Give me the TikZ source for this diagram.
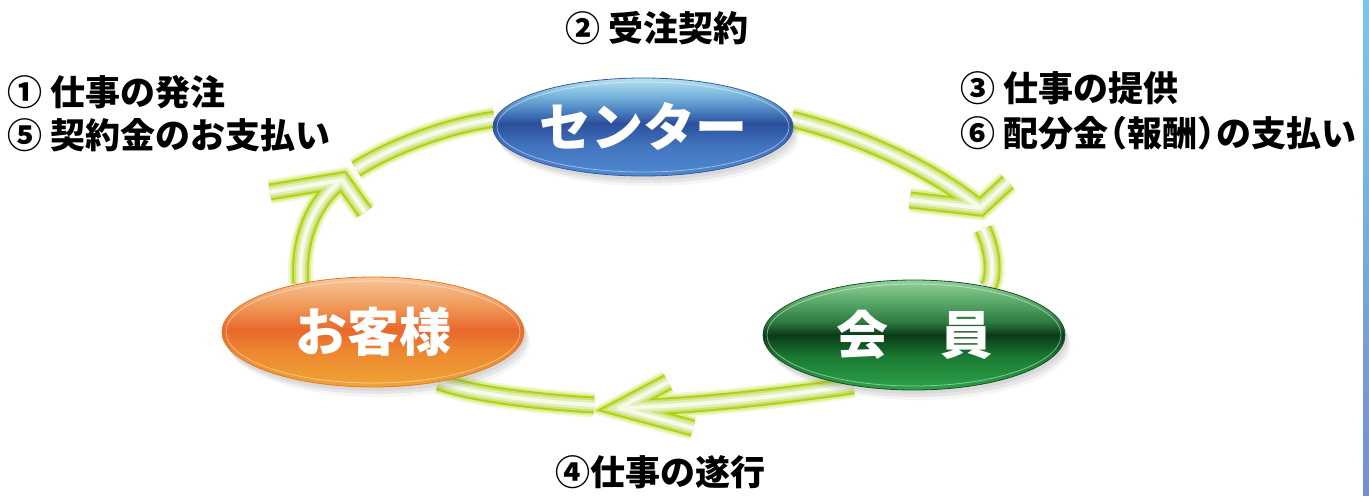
\documentclass[tikz,border=0pt]{standalone}
\usepackage{fontspec}
\newfontfamily\jp{Noto Sans CJK JP}
\usetikzlibrary{shapes.geometric,shadows}
\definecolor{gA}{HTML}{F1F8D4}
\definecolor{gA2}{HTML}{DCEE98}
\definecolor{gB}{HTML}{B2D10C}
\definecolor{gC}{HTML}{CBE277}
\definecolor{gD}{HTML}{E2EEB6}
\definecolor{gE}{HTML}{F6FAE8}
\definecolor{stripT}{HTML}{7CC6E8}
\definecolor{stripB}{HTML}{7490CC}
\definecolor{blueB}{HTML}{3A5AA0}
\definecolor{greenB}{HTML}{1A5028}
\definecolor{orangeB}{HTML}{E07A28}
\pgfdeclareverticalshading{blueell}{100bp}{rgb(0bp)=(.31,.54,.82); rgb(25bp)=(.31,.54,.82); rgb(40bp)=(.26,.46,.75); rgb(52bp)=(.17,.31,.61); rgb(58bp)=(.29,.50,.75); rgb(66bp)=(.47,.71,.86); rgb(75bp)=(.71,.89,.94); rgb(100bp)=(.71,.89,.94)}
\pgfdeclareverticalshading{greenell}{100bp}{rgb(0bp)=(.17,.64,.29); rgb(25bp)=(.17,.64,.29); rgb(40bp)=(.11,.48,.20); rgb(50bp)=(.04,.23,.09); rgb(56bp)=(.18,.48,.25); rgb(65bp)=(.35,.66,.41); rgb(75bp)=(.57,.82,.60); rgb(100bp)=(.57,.82,.60)}
\pgfdeclareverticalshading{orangeell}{100bp}{rgb(0bp)=(.94,.64,.20); rgb(25bp)=(.94,.64,.20); rgb(40bp)=(.93,.54,.19); rgb(51bp)=(.91,.41,.17); rgb(62bp)=(.94,.60,.35); rgb(75bp)=(.97,.78,.60); rgb(100bp)=(.97,.78,.60)}
\pgfdeclarelayer{bg}
\pgfsetlayers{bg,main}
\tikzset{
  glow/.style={draw=gE, line width=4pt, line cap=round, line join=round,
    preaction={draw=gA, line width=25pt},
    preaction={draw=gA2, line width=21pt},
    preaction={draw=gB, line width=17pt},
    preaction={draw=gC, line width=13pt},
    preaction={draw=gD, line width=9pt}},
  hub/.style={ellipse, inner sep=0pt, text=white, line width=0.8pt,
    font=\jp\bfseries\fontsize{52}{60}\selectfont,
    drop shadow={shadow xshift=2pt, shadow yshift=-4pt, opacity=.12},
    drop shadow={shadow xshift=4pt, shadow yshift=-7pt, opacity=.12},
    drop shadow={shadow xshift=6pt, shadow yshift=-10pt, opacity=.08}},
  lbl/.style={anchor=base west, inner sep=0pt, text=black,
    font=\jp\bfseries\fontsize{35}{40}\selectfont},
  shine/.style={draw=white, opacity=.45, line width=0.8pt}
}
\begin{document}
\begin{tikzpicture}[x=1pt,y=-1pt]
\useasboundingbox (0,0) rectangle (1369,496);

% hubs
\node[hub, shading=blueell, draw=blueB, minimum width=300pt, minimum height=98pt] (center) at (643,127) {\raisebox{5pt}{センター}};
\node[hub, shading=orangeell, draw=orangeB, minimum width=302pt, minimum height=110pt] (cust) at (373,332) {お客様};
\node[hub, shading=greenell, draw=greenB, minimum width=302pt, minimum height=110pt] (mem) at (914,335) {会　員};
\draw[shine] (center.center) ellipse [x radius=146, y radius=45];
\draw[shine] (cust.center) ellipse [x radius=147, y radius=51];
\draw[shine] (mem.center) ellipse [x radius=147, y radius=51];

% points of the loop
\coordinate (tipA) at (342,180);
\coordinate (armA1) at (270,192);
\coordinate (armA2) at (365,212);
\coordinate (startB) at (356,169);
\coordinate (tipC) at (980,208);
\coordinate (armC1) at (910,200);
\coordinate (armC2) at (1008,182);
\coordinate (startD) at (983,229);
\coordinate (tipE) at (619,408);
\coordinate (armE1) at (668,382);
\coordinate (armE2) at (693,428);
\coordinate (startF) at (594,405);

\begin{pgfonlayer}{bg}
\fill[white] (0,0) rectangle (1369,496);
\shade[top color=stripT, bottom color=stripB] (1363,0) rectangle (1369,495);
\path[glow] (cust.146) .. controls (298,240) and (312,203) .. (tipA)
  (armA1) -- (tipA) -- (armA2);
\path[glow] (startB) .. controls (395,145) and (450,125) .. (center.177);
\path[glow] (center.3) .. controls (870,138) and (940,175) .. (tipC)
  (armC1) -- (tipC) -- (armC2);
\path[glow] (startD) .. controls (993,250) and (995,275) .. (mem.33);
\path[glow] (mem.220) .. controls (780,396) and (700,406) .. (tipE)
  (armE1) -- (tipE) -- (armE2);
\path[glow] (startF) .. controls (540,402) and (470,394) .. (cust.-37);
\end{pgfonlayer}

% labels
\node[lbl] (l1) at (7,105) {① 仕事の発注};
\node[lbl] (l5) at (7,148) {⑤ 契約金のお支払い};
\node[lbl] (l2) at (565,41) {② 受注契約};
\node[lbl] (l3) at (960,101) {③ 仕事の提供};
\node[lbl] (l6) at (960,146) {⑥ 配分金\kern-.45em（報酬）\kern-.45em の支払い};
\node[lbl] (l4) at (555,485) {④仕事の遂行};
\end{tikzpicture}
\end{document}
